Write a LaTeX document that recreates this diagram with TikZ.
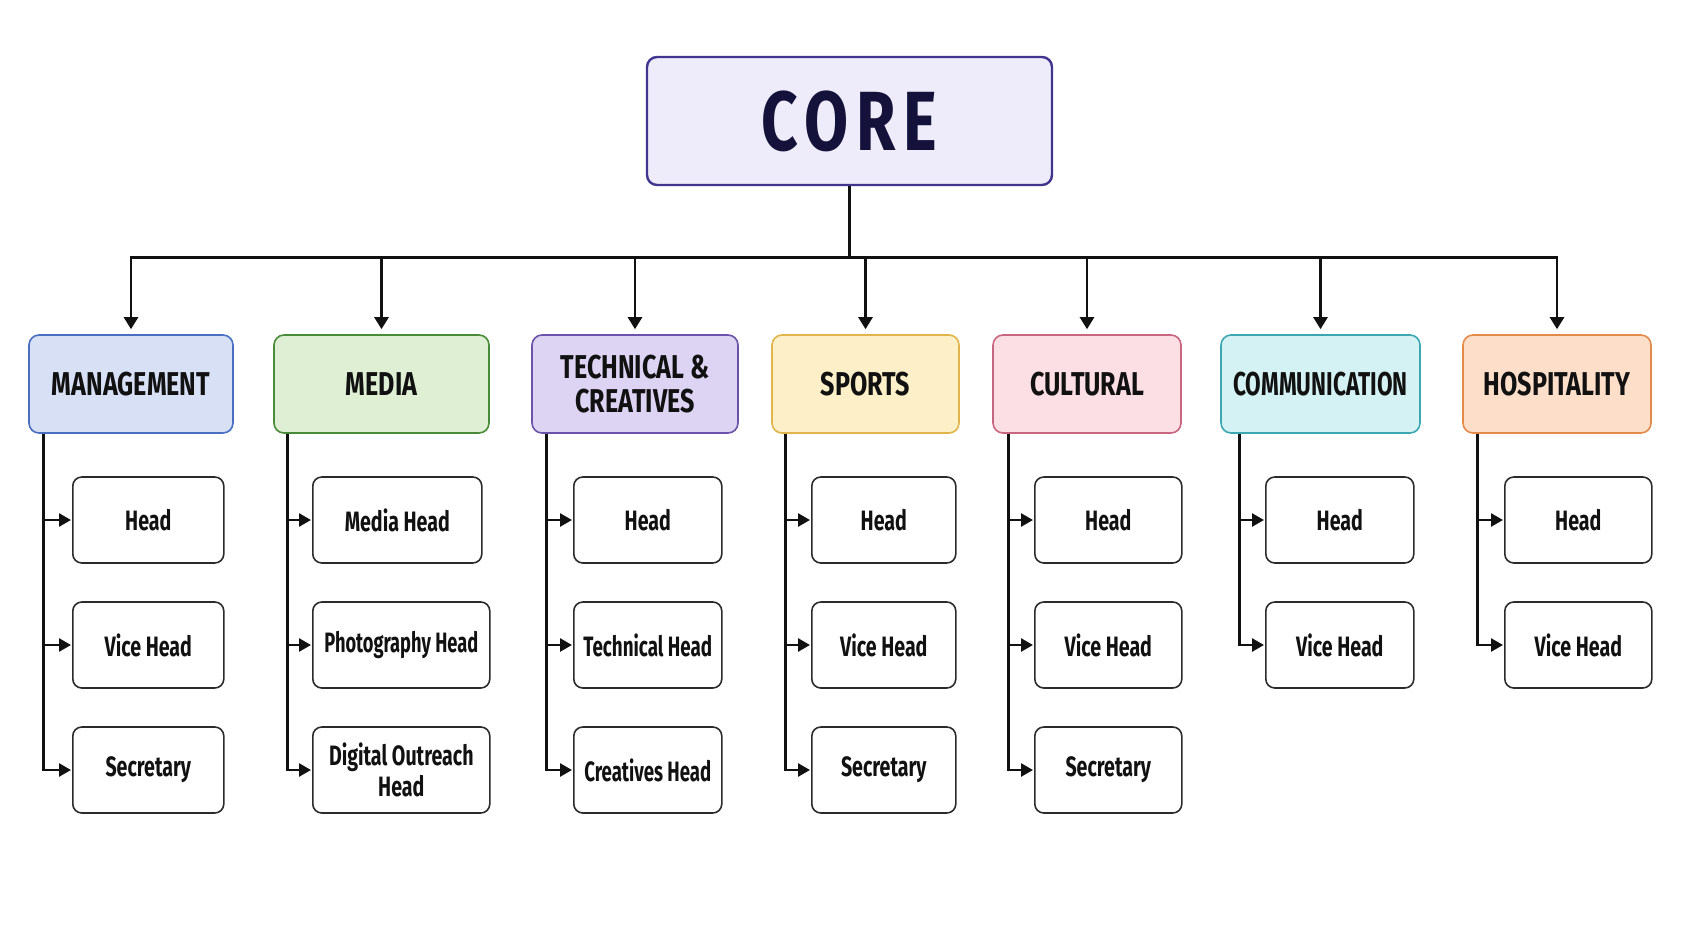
\documentclass[tikz,border=0pt]{standalone}
\usepackage{fontspec}
\setmainfont{Fira Sans}[FakeStretch=0.76]
\newfontfamily\rolefont{Fira Sans}[FakeStretch=0.70]
\usepackage{xcolor}
\usepackage{tikz}
\usetikzlibrary{
  arrows.meta,
  positioning,
  calc
}
\definecolor{CoreFill}{HTML}{EEEBFA}
\definecolor{CoreLine}{HTML}{3F358F}
\definecolor{CoreText}{HTML}{14123A}
\definecolor{MgmtFill}{HTML}{D7E0F5}
\definecolor{MgmtLine}{HTML}{4A6FC0}
\definecolor{MediaFill}{HTML}{DEEFD4}
\definecolor{MediaLine}{HTML}{4A8B3B}
\definecolor{TechFill}{HTML}{DDD4F3}
\definecolor{TechLine}{HTML}{6A53A8}
\definecolor{SportFill}{HTML}{FDF0C9}
\definecolor{SportLine}{HTML}{E2B44B}
\definecolor{CultFill}{HTML}{FCDEE5}
\definecolor{CultLine}{HTML}{C8667F}
\definecolor{CommFill}{HTML}{D4F1F3}
\definecolor{CommLine}{HTML}{3CA7B0}
\definecolor{HospFill}{HTML}{FDDEC9}
\definecolor{HospLine}{HTML}{E38A4B}
\definecolor{SubLine}{HTML}{2B2B2B}
\definecolor{LinkBlack}{HTML}{111111}

\tikzset{
  catbox/.style={rounded corners=10pt, line width=1.6pt, minimum height=98pt,
                 align=center, text=LinkBlack,
                 font=\fontsize{33}{34}\selectfont\bfseries},
  subbox/.style={draw=SubLine, fill=white, rounded corners=9pt, line width=1.6pt,
                 minimum height=86pt, anchor=west, align=center, text=LinkBlack,
                 inner sep=2pt, font=\rolefont\fontsize{28}{31}\selectfont\bfseries},
  link/.style={line width=2.6pt, draw=LinkBlack},
  downarrow/.style={link, -{Triangle[length=12pt,width=14pt]}, shorten >=5pt},
  sidearrow/.style={link, -{Triangle[length=12pt,width=13pt]}, shorten >=1pt}
}

\begin{document}
\begin{tikzpicture}[x=1pt,y=-1pt]
  \useasboundingbox (0,0) rectangle (1693,929);

  % top box
  \node[draw=CoreLine, fill=CoreFill, line width=2.4pt, rounded corners=10pt,
        minimum width=405pt, minimum height=128pt, text=CoreText,
        font=\fontsize{84}{84}\selectfont\bfseries\addfontfeature{LetterSpace=9}]
        (core) at (849.5,121) {CORE};

  % departments
  \node[catbox, draw=MgmtLine, fill=MgmtFill, minimum width=204pt] (mgmt) at (131,384) {MANAGEMENT};
  \node[catbox, draw=MediaLine, fill=MediaFill, minimum width=215pt] (media) at (381.5,384) {MEDIA};
  \node[catbox, draw=TechLine, fill=TechFill, minimum width=206pt] (tech) at (635,384) {TECHNICAL \&\\CREATIVES};
  \node[catbox, draw=SportLine, fill=SportFill, minimum width=187pt] (sport) at (865.5,384) {SPORTS};
  \node[catbox, draw=CultLine, fill=CultFill, minimum width=188pt] (cult) at (1087,384) {CULTURAL};
  \node[catbox, draw=CommLine, fill=CommFill, minimum width=199pt] (comm) at (1320.5,384) {\scalebox{0.9}[1]{COMMUNICATION}};
  \node[catbox, draw=HospLine, fill=HospFill, minimum width=188pt] (hosp) at (1557,384) {HOSPITALITY};

  \coordinate (bus) at ($(core.south)+(0,71)$);
  \foreach \c in {mgmt,media,tech,sport,cult,comm,hosp}
    \draw[downarrow] (core.south) -- (bus) -| (\c.north);

  % roles
  \node[subbox, minimum width=151pt] (mgmt1) at (72,520) {Head};
  \node[subbox, minimum width=151pt] (mgmt2) at (72,645) {Vice Head};
  \node[subbox, minimum width=151pt] (mgmt3) at (72,770) {Secretary};

  \node[subbox, minimum width=169pt] (media1) at (312,520) {Media Head};
  \node[subbox, minimum width=177pt] (media2) at (312,645) {\scalebox{0.93}[1]{Photography Head}};
  \node[subbox, minimum width=177pt] (media3) at (312,770) {Digital Outreach\\Head};

  \node[subbox, minimum width=148pt] (tech1) at (573,520) {Head};
  \node[subbox, minimum width=148pt] (tech2) at (573,645) {\scalebox{0.96}[1]{Technical Head}};
  \node[subbox, minimum width=148pt] (tech3) at (573,770) {\scalebox{0.95}[1]{Creatives Head}};

  \node[subbox, minimum width=144pt] (sport1) at (811,520) {Head};
  \node[subbox, minimum width=144pt] (sport2) at (811,645) {Vice Head};
  \node[subbox, minimum width=144pt] (sport3) at (811,770) {Secretary};

  \node[subbox, minimum width=147pt] (cult1) at (1034,520) {Head};
  \node[subbox, minimum width=147pt] (cult2) at (1034,645) {Vice Head};
  \node[subbox, minimum width=147pt] (cult3) at (1034,770) {Secretary};

  \node[subbox, minimum width=148pt] (comm1) at (1265,520) {Head};
  \node[subbox, minimum width=148pt] (comm2) at (1265,645) {Vice Head};

  \node[subbox, minimum width=147pt] (hosp1) at (1504,520) {Head};
  \node[subbox, minimum width=147pt] (hosp2) at (1504,645) {Vice Head};

  % trunks
  \coordinate (mgmtT) at ($(mgmt.south west)+(15,0)$);
  \coordinate (mediaT) at ($(media.south west)+(14,0)$);
  \coordinate (techT) at ($(tech.south west)+(15,0)$);
  \coordinate (sportT) at ($(sport.south west)+(14,0)$);
  \coordinate (cultT) at ($(cult.south west)+(16,0)$);
  \coordinate (commT) at ($(comm.south west)+(19,0)$);
  \coordinate (hospT) at ($(hosp.south west)+(15,0)$);

  \foreach \c in {mgmt,media,tech,sport,cult}
    \foreach \s in {1,2,3}
      \draw[sidearrow] (\c T) |- (\c\s.west);
  \foreach \c in {comm,hosp}
    \foreach \s in {1,2}
      \draw[sidearrow] (\c T) |- (\c\s.west);
\end{tikzpicture}
\end{document}
